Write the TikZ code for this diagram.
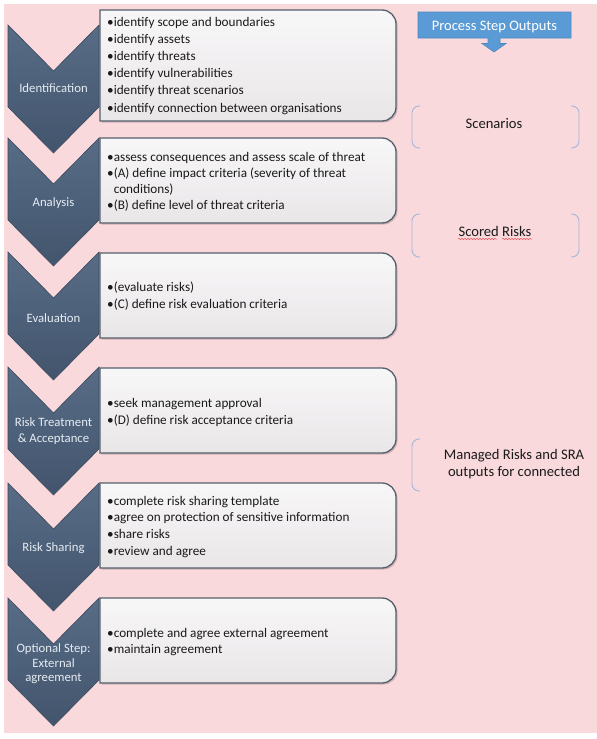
\documentclass[tikz,border=0pt]{standalone}
\usepackage{fontspec}
\setmainfont{Carlito}
\usetikzlibrary{decorations.pathmorphing}
\definecolor{bgpink}{HTML}{F9D9DC}
\definecolor{chevtop}{HTML}{586C86}
\definecolor{chevbot}{HTML}{43556D}
\definecolor{chevedge}{HTML}{3B4A5E}
\definecolor{boxedge}{HTML}{56606B}
\definecolor{boxtop}{HTML}{F8F7F8}
\definecolor{boxbot}{HTML}{E9E6E8}
\definecolor{labeltext}{HTML}{E6ECF3}
\definecolor{psblue}{HTML}{5B9BD5}
\definecolor{psedge}{HTML}{4A88C2}
\definecolor{brackblue}{HTML}{A3B7D8}
\definecolor{bodytext}{HTML}{1A1A1A}
\definecolor{spellred}{HTML}{E8585C}
\newcommand\drawstepbox[2]{%
  \fill[boxshadow] (101.5,#1+1.5) -- (383.5,#1+1.5) arc[start angle=-90,end angle=0,radius=14] -- (397.5,#2-12.5) arc[start angle=0,end angle=90,radius=14] -- (101.5,#2+1.5) -- cycle;
  \path[stepbox] (100,#1) -- (382,#1) arc[start angle=-90,end angle=0,radius=14] -- (396,#2-14) arc[start angle=0,end angle=90,radius=14] -- (100,#2) -- cycle;}
\newcommand\drawchevron[1]{%
  \path[chevron] (8,#1) -- (53.5,#1+46) -- (99,#1) -- (99,#1+82) -- (53.5,#1+128) -- (8,#1+82) -- cycle;}
\begin{document}
\begin{tikzpicture}[x=1pt,y=-1pt,
  chevron/.style={draw=chevedge, line width=0.6pt, top color=chevtop, bottom color=chevbot},
  stepbox/.style={draw=boxedge, line width=1.3pt, top color=boxtop, bottom color=boxbot},
  boxshadow/.style={fill=black, opacity=0.18},
  chevlabel/.style={text=labeltext, font=\fontsize{12.75}{14.5}\selectfont, align=center, inner sep=0pt},
  item/.style={anchor=base west, inner sep=0pt, text=bodytext, font=\fontsize{13.2}{15}\selectfont},
  bracket/.style={draw=brackblue, line width=0.9pt, rounded corners=7pt},
  outtext/.style={text=bodytext, font=\fontsize{14.6}{17}\selectfont, align=center, inner sep=0pt},
  squiggle/.style={draw=spellred, line width=0.5pt, decorate, decoration={snake, amplitude=0.7pt, segment length=3pt}}
]
\useasboundingbox (0,0) rectangle (597,739);
\fill[white] (0,0) rectangle (597,739);
\fill[bgpink] (4,4) rectangle (597,733);

% step boxes
\drawstepbox{10}{121}
\drawstepbox{138}{223}
\drawstepbox{253}{338}
\drawstepbox{368}{453}
\drawstepbox{483}{568}
\drawstepbox{598}{683}

% chevrons
\drawchevron{25}
\drawchevron{138}
\drawchevron{252}
\drawchevron{367}
\drawchevron{483}
\drawchevron{598}

% chevron labels
\node[chevlabel] (lIdent) at (53.5,88) {Identification};
\node[chevlabel] (lAna) at (53.5,203) {Analysis};
\node[chevlabel] (lEval) at (53.5,318) {Evaluation};
\node[chevlabel] (lRT) at (53.5,431) {Risk Treatment\\[2pt]\& Acceptance};
\node[chevlabel] (lRS) at (53.5,548) {Risk Sharing};
\node[chevlabel] (lOpt) at (53.5,664) {Optional Step:\\External\\agreement};

% box texts
\foreach \t [count=\i] in {{•identify scope and boundaries},{•identify assets},{•identify threats},{•identify vulnerabilities},{•identify threat scenarios},{•identify connection between organisations}}
  \node[item] (id\i) at (107,26.5+17.1*\i-17.1) {\t};
\foreach \t [count=\i] in {{•assess consequences and assess scale of threat},{•(A) define impact criteria (severity of threat},{\phantom{•}conditions)},{•(B) define level of threat criteria}}
  \node[item] (an\i) at (107,161+16*\i-16) {\t};
\foreach \t [count=\i] in {{•(evaluate risks)},{•(C) define risk evaluation criteria}}
  \node[item] (ev\i) at (107,291+17*\i-17) {\t};
\foreach \t [count=\i] in {{•seek management approval},{•(D) define risk acceptance criteria}}
  \node[item] (rt\i) at (107,407+17*\i-17) {\t};
\foreach \t [count=\i] in {{•complete risk sharing template},{•agree on protection of sensitive information},{•share risks},{•review and agree}}
  \node[item] (rs\i) at (107,505+16.7*\i-16.7) {\t};
\foreach \t [count=\i] in {{•complete and agree external agreement},{•maintain agreement}}
  \node[item] (op\i) at (107,637+16.5*\i-16.5) {\t};

% process step outputs
\path[fill=psblue, draw=psedge, line width=0.6pt] (418,12) -- (571,12) -- (571,38) -- (500,38) -- (500,43.5) -- (506,43.5) -- (494,52) -- (482,43.5) -- (488,43.5) -- (488,38) -- (418,38) -- cycle;
\node[text=white, font=\fontsize{14.5}{16}\selectfont, inner sep=0pt] (pso) at (494.5,27) {Process Step Outputs};

% output brackets
\draw[bracket] (420,106) -- (412,106) -- (412,148) -- (420,148);
\draw[bracket] (571,106) -- (579,106) -- (579,148) -- (571,148);
\node[outtext] (scen) at (494,124) {Scenarios};

\draw[bracket] (420,214) -- (412,214) -- (412,257) -- (420,257);
\draw[bracket] (571,214) -- (579,214) -- (579,257) -- (571,257);
\node[outtext] (scored) at (495,231) {Scored Risks};
\draw[squiggle] (458,239) -- (497,239);
\draw[squiggle] (502,239) -- (532,239);

\draw[bracket] (420,439) -- (412,439) -- (412,491) -- (420,491);
\node[outtext] (managed) at (514,464.5) {Managed Risks and SRA\\outputs for connected};
\end{tikzpicture}
\end{document}
